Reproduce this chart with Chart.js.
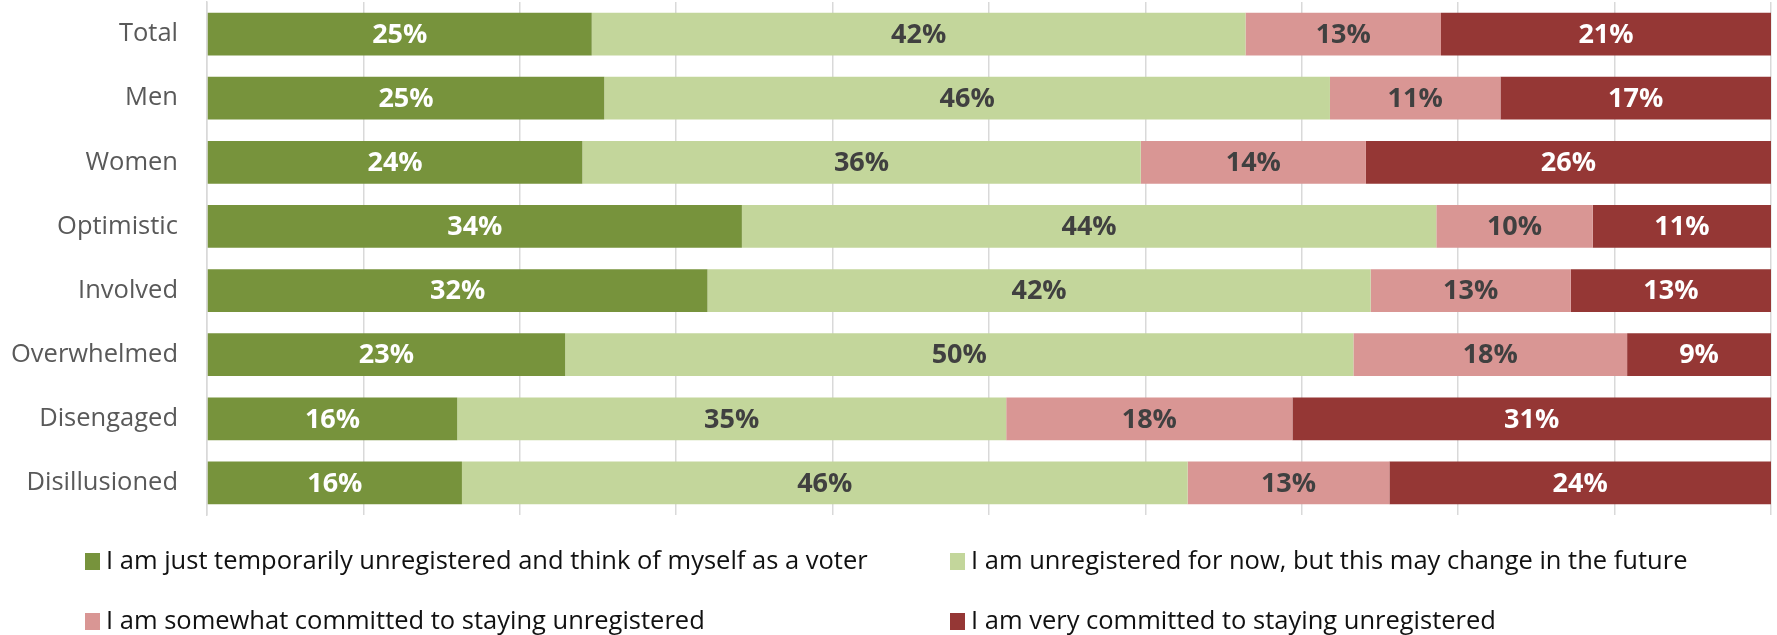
<!DOCTYPE html>
<html><head><meta charset="utf-8">
<script src="https://cdn.jsdelivr.net/npm/chart.js@4/dist/chart.umd.min.js"></script>
<style>html,body{margin:0;padding:0;background:#fff;} #wrap{width:1777px;height:635px;position:relative;}</style>
</head><body><div id="wrap"><canvas id="c" width="1777" height="635"></canvas></div>
<script>
const categories = ["Total","Men","Women","Optimistic","Involved","Overwhelmed","Disengaged","Disillusioned"];
const seriesNames = [
  "I am just temporarily unregistered and think of myself as a voter",
  "I am unregistered for now, but this may change in the future",
  "I am somewhat committed to staying unregistered",
  "I am very committed to staying unregistered"
];
const temporarilyUnregistered = [24.6, 25.4, 24.0, 34.2, 32.0, 22.9, 16.0, 16.3];
const mayChange              = [41.8, 46.4, 35.7, 44.4, 42.4, 50.4, 35.1, 46.4];
const somewhatCommitted      = [12.5, 10.9, 14.4, 10.0, 12.8, 17.5, 18.3, 12.9];
const veryCommitted          = [21.1, 17.3, 25.9, 11.4, 12.8,  9.2, 30.6, 24.4];
const xTicks = [0,10,20,30,40,50,60,70,80,90,100];

const colors = ["#77933C", "#C3D69B", "#D99694", "#953735"];
const labelColors = ["#FFFFFF", "#404040", "#404040", "#FFFFFF"];
const seriesData = [temporarilyUnregistered, mayChange, somewhatCommitted, veryCommitted];

const segLabels = {
  id: 'segLabels',
  afterDatasetsDraw(chart) {
    const ctx = chart.ctx;
    chart.data.datasets.forEach((ds, i) => {
      const meta = chart.getDatasetMeta(i);
      meta.data.forEach((bar, j) => {
        const p = bar.getProps(['x', 'base', 'y'], true);
        ctx.save();
        ctx.font = 'bold 27px "Open Sans"';
        ctx.fillStyle = labelColors[i];
        ctx.textAlign = 'center';
        ctx.textBaseline = 'middle';
        ctx.fillText(Math.round(ds.data[j]) + '%', (p.x + p.base) / 2, p.y + 1);
        ctx.restore();
      });
    });
  }
};

const gridLegend = {
  id: 'gridLegend',
  afterDraw(chart) {
    const ctx = chart.ctx;
    const cols = [85, 950], rows = [561.5, 621.5];
    chart.data.datasets.forEach((ds, i) => {
      const cx = cols[i % 2], cy = rows[Math.floor(i / 2)];
      ctx.save();
      ctx.fillStyle = ds.backgroundColor;
      ctx.fillRect(cx, cy - 8.5, 15, 17);
      ctx.font = '25.5px "Open Sans"';
      ctx.fillStyle = '#111111';
      ctx.textAlign = 'left';
      ctx.textBaseline = 'middle';
      ctx.fillText(ds.label, cx + 21, cy);
      ctx.restore();
    });
  }
};

new Chart(document.getElementById('c'), {
  type: 'bar',
  data: {
    labels: categories,
    datasets: seriesData.map((d, i) => ({
      label: seriesNames[i],
      data: d,
      backgroundColor: colors[i],
      borderWidth: 0,
      categoryPercentage: 0.667,
      barPercentage: 1.0
    }))
  },
  options: {
    indexAxis: 'y',
    responsive: false,
    animation: false,
    layout: { padding: { left: 0, right: 6, top: 2, bottom: 120 } },
    plugins: { legend: { display: false }, tooltip: { enabled: false } },
    scales: {
      x: {
        stacked: true, min: 0, max: 100,
        afterBuildTicks(scale) { scale.ticks = xTicks.map(v => ({ value: v })); },
        afterFit(scale) { scale.height = 0; scale.paddingLeft = 0; scale.paddingRight = 0; },
        ticks: { display: false },
        grid: { color: '#D9D9D9', lineWidth: 1.5, drawTicks: false },
        border: { display: false }
      },
      y: {
        stacked: true,
        afterFit(scale) { scale.width = 207; scale.paddingTop = 0; scale.paddingBottom = 0; },
        ticks: { font: { family: 'Open Sans', size: 25.5 }, color: '#595959', padding: 29 },
        grid: { display: false, drawTicks: false },
        border: { display: true, color: '#D9D9D9', width: 1.5 }
      }
    }
  },
  plugins: [segLabels, gridLegend]
});
</script>
</body></html>
